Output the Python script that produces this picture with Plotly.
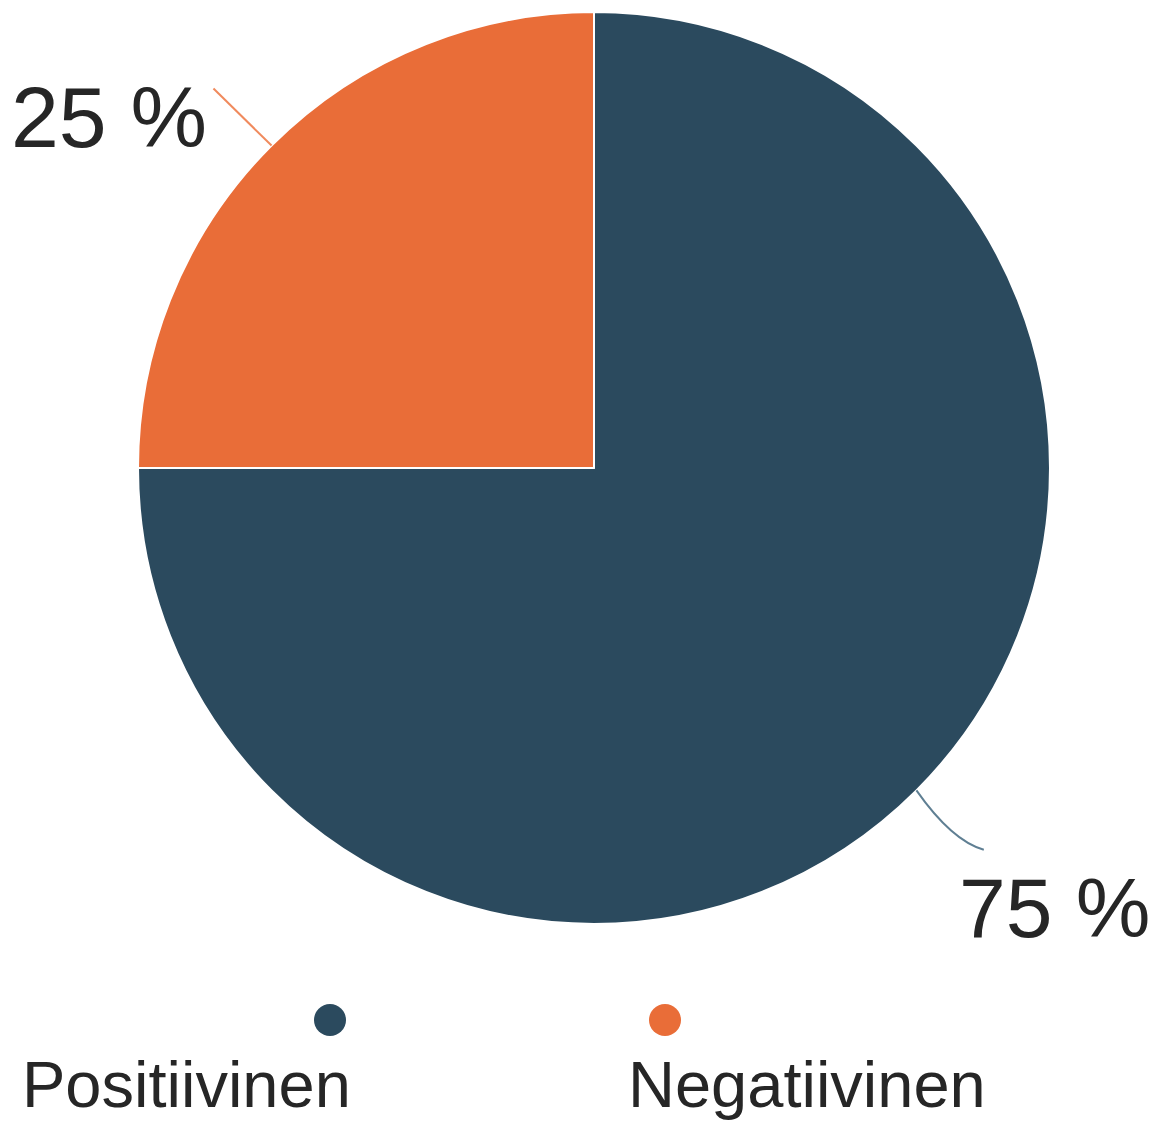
import math
import plotly.graph_objects as go

categories = ["Positiivinen", "Negatiivinen"]
values = [75, 25]
colors = ["#2B4A5E", "#E96D38"]
label_texts = ["75 %", "25 %"]

W, H = 1157, 1122
OFF = 8  # default page body margin
FW, FH = W - OFF, H - OFF
CX, CY, R = 594, 468, 456

fig = go.Figure()

fig.add_trace(go.Pie(
    labels=categories,
    values=values,
    marker=dict(colors=colors, line=dict(color="white", width=2)),
    sort=False,
    direction="clockwise",
    rotation=0,
    textinfo="none",
    hoverinfo="label+percent",
    showlegend=False,
    domain=dict(x=[(CX - R - OFF) / FW, (CX + R - OFF) / FW],
                y=[1 - (CY + R - OFF) / FH, 1 - (CY - R - OFF) / FH]),
))

# Leader lines and outside labels computed from slice mid-angles
total = sum(values)
cum = 0
shapes = []
annotations = []
for i, v in enumerate(values):
    mid_frac = (cum + v / 2) / total
    cum += v
    ang = 2 * math.pi * mid_frac
    ux, uy = math.sin(ang), -math.cos(ang)
    sx, sy = CX + R * ux, CY + R * uy
    ex, ey = CX + (R + 85) * ux, CY + (R + 85) * uy
    if ux >= 0:
        cx_, cy_ = CX + (R + 50) * ux, CY + (R + 50) * uy
        ex2, ey2 = cx_ + 32, cy_ + 24
        path = f"M {sx},{sy} Q {cx_},{cy_ + 15} {ex2},{ey2}"
        shapes.append(dict(type="path", path=path, xref="x", yref="y",
                           line=dict(color="#5F7F93", width=2)))
        annotations.append(dict(x=ex2 - 27, y=ey2 + 58, xref="x", yref="y",
                                text=label_texts[i], showarrow=False,
                                xanchor="left", yanchor="middle",
                                font=dict(family="Liberation Sans, Arial", size=84, color="#262626")))
    else:
        shapes.append(dict(type="line", x0=sx, y0=sy, x1=ex + 2, y1=ey + 3, xref="x", yref="y",
                           line=dict(color="#F08A5D", width=2)))
        annotations.append(dict(x=ex - 2, y=ey + 32, xref="x", yref="y",
                                text=label_texts[i], showarrow=False,
                                xanchor="right", yanchor="middle",
                                font=dict(family="Liberation Sans, Arial", size=86, color="#262626")))

# Custom legend: circle markers above category names
legend_marker_x = [330, 665]
legend_text_x = [20, 626]
fig.add_trace(go.Scatter(
    x=legend_marker_x, y=[1020, 1020], mode="markers",
    marker=dict(size=32, color=colors), hoverinfo="skip", showlegend=False,
))
for i, name in enumerate(categories):
    annotations.append(dict(x=legend_text_x[i], y=1084, xref="x", yref="y",
                            text=name, showarrow=False, xanchor="left", yanchor="middle",
                            font=dict(family="Liberation Sans, Arial", size=65, color="#262626")))

fig.update_layout(
    width=FW, height=FH,
    margin=dict(l=0, r=0, t=0, b=0),
    paper_bgcolor="white", plot_bgcolor="white",
    xaxis=dict(range=[OFF, W], visible=False, fixedrange=True),
    yaxis=dict(range=[H, OFF], visible=False, fixedrange=True),
    shapes=shapes,
    annotations=annotations,
)

fig.write_html("out.html")
